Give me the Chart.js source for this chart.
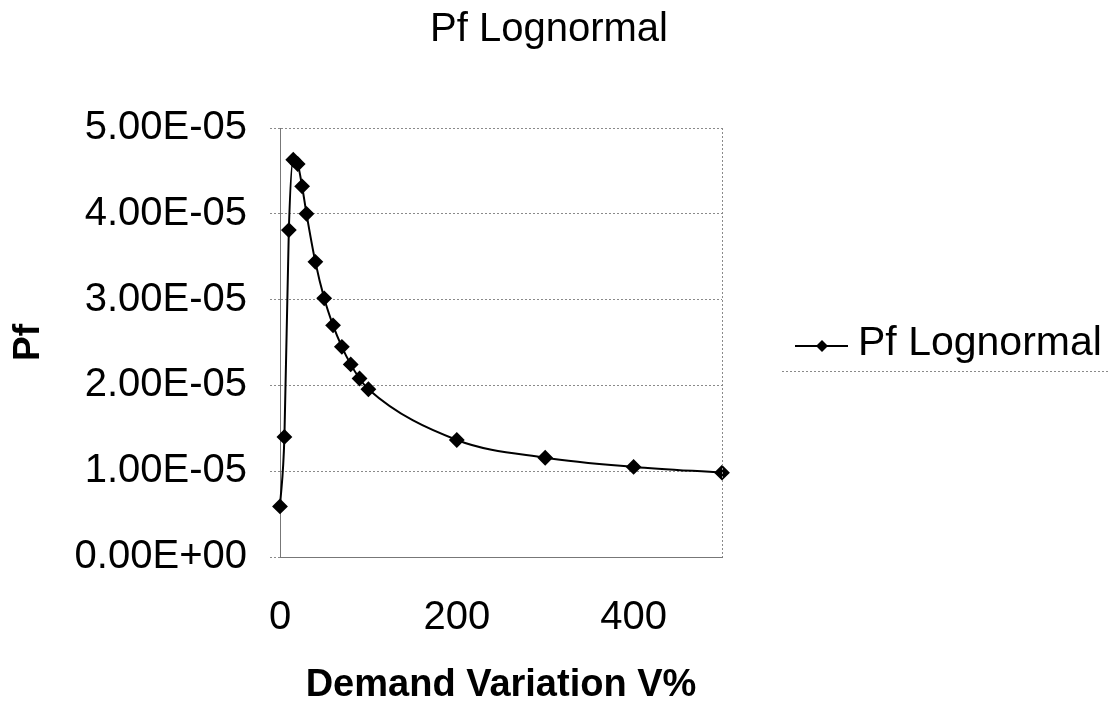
<!DOCTYPE html>
<html lang="en">
<head>
  <meta charset="UTF-8" />
  <title>Pf Lognormal</title>
  <style>
    html, body { margin: 0; padding: 0; background: #fff; }
    #wrap { width: 1115px; height: 709px; }
  </style>
</head>
<body>
  <div id="wrap"><canvas id="pfChart" width="1115" height="709"></canvas></div>

  <script src="https://cdn.jsdelivr.net/npm/chart.js"></script>
  <script>
    // demand variation V% (x) and Pf (y)
    const demandVariation = [0, 5, 10, 15, 20, 25, 30, 40, 50, 60, 70, 80, 90, 100, 200, 300, 400, 500];
    const pfLognormal = [
      5.9e-6, 1.40e-5, 3.81e-5, 4.63e-5, 4.58e-5, 4.32e-5, 4.00e-5, 3.44e-5, 3.015e-5,
      2.70e-5, 2.45e-5, 2.245e-5, 2.08e-5, 1.955e-5, 1.364e-5, 1.157e-5, 1.05e-5, 0.983e-5
    ];
    const xTickValues = [0, 200, 400];
    const yTickValues = [0, 1e-5, 2e-5, 3e-5, 4e-5, 5e-5];
    const yTickLabels = ['0.00E+00', '1.00E-05', '2.00E-05', '3.00E-05', '4.00E-05', '5.00E-05'];

    const seriesLabel = 'Pf Lognormal';
    const chartTitle = 'Pf Lognormal';
    const gridColor = '#8a8a8a';
    const fontFamily = 'Arial, "Liberation Sans", sans-serif';

    // title, dotted right edge of the plot area, legend on the right
    const extras = {
      id: 'extras',
      afterDraw(chart) {
        const { ctx, chartArea } = chart;
        ctx.save();

        ctx.fillStyle = '#000';
        ctx.font = '40px ' + fontFamily;
        ctx.textAlign = 'center';
        ctx.textBaseline = 'middle';
        ctx.fillText(chartTitle, 549, 30);

        ctx.strokeStyle = gridColor;
        ctx.lineWidth = 1;
        ctx.setLineDash([2, 2]);
        ctx.beginPath();
        ctx.moveTo(chartArea.right + 0.5, chartArea.top);
        ctx.lineTo(chartArea.right + 0.5, chartArea.bottom);
        ctx.stroke();

        // legend box bottom line
        ctx.beginPath();
        ctx.moveTo(782, 371.5);
        ctx.lineTo(1108, 371.5);
        ctx.stroke();
        ctx.setLineDash([]);

        // legend marker
        const ly = 346;
        ctx.strokeStyle = '#000';
        ctx.lineWidth = 2;
        ctx.beginPath();
        ctx.moveTo(795, ly);
        ctx.lineTo(848, ly);
        ctx.stroke();
        ctx.beginPath();
        ctx.moveTo(822, ly - 6);
        ctx.lineTo(828, ly);
        ctx.lineTo(822, ly + 6);
        ctx.lineTo(816, ly);
        ctx.closePath();
        ctx.fill();

        ctx.font = '41px ' + fontFamily;
        ctx.textAlign = 'left';
        ctx.fillText(chart.data.datasets[0].label, 858, 344);
        ctx.restore();
      }
    };

    window.onload = () => {
      const ctx = document.getElementById('pfChart').getContext('2d');
      new Chart(ctx, {
        type: 'line',
        data: {
          datasets: [{
            label: seriesLabel,
            data: demandVariation.map((v, i) => ({ x: v, y: pfLognormal[i] })),
            borderColor: '#000',
            backgroundColor: '#000',
            borderWidth: 2,
            pointStyle: 'rectRot',
            pointRadius: 6.5,
            pointHoverRadius: 6.5,
            cubicInterpolationMode: 'monotone',
            clip: false,
            fill: false
          }]
        },
        options: {
          responsive: false,
          animation: false,
          layout: { padding: { top: 128, left: 0, right: 393, bottom: 0 } },
          plugins: {
            legend: { display: false },
            tooltip: { enabled: false },
            title: { display: false }
          },
          scales: {
            x: {
              type: 'linear',
              min: 0,
              max: 500,
              afterBuildTicks: s => { s.ticks = xTickValues.map(v => ({ value: v })); },
              afterFit: s => { s.height = 152; },
              grid: { display: false },
              border: { display: true, color: '#777', width: 1 },
              ticks: {
                color: '#000',
                padding: 29,
                maxRotation: 0,
                font: { family: fontFamily, size: 40 }
              },
              title: {
                display: true,
                text: 'Demand Variation V%',
                color: '#000',
                font: { family: fontFamily, size: 38, weight: 'bold' },
                padding: { top: 0, bottom: 1 }
              }
            },
            y: {
              min: 0,
              max: 5e-5,
              afterBuildTicks: s => { s.ticks = yTickValues.map(v => ({ value: v })); },
              afterFit: s => { s.width = 280; },
              grid: {
                color: gridColor,
                lineWidth: 1,
                tickLength: 10,
                tickBorderDash: [2, 2]
              },
              border: { display: true, color: '#777', width: 1, dash: [2, 2] },
              ticks: {
                color: '#000',
                padding: 23,
                font: { family: fontFamily, size: 40 },
                callback: (v, i) => yTickLabels[i]
              },
              title: {
                display: true,
                text: 'Pf',
                color: '#000',
                font: { family: fontFamily, size: 37, weight: 'bold' },
                padding: { top: 7, bottom: 0 }
              }
            }
          }
        },
        plugins: [extras]
      });
    };
  </script>
</body>
</html>
